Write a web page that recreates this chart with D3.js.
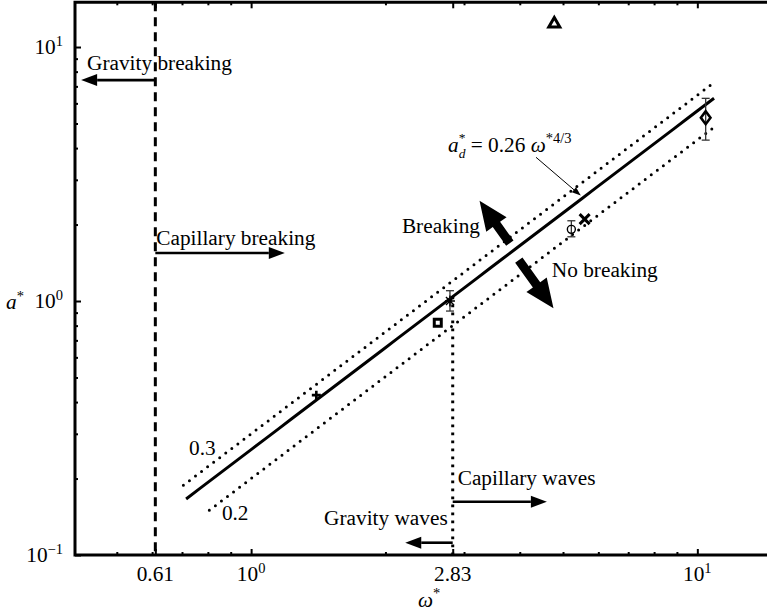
<!DOCTYPE html>
<html>
<head>
<meta charset="utf-8">
<script src="https://cdn.jsdelivr.net/npm/d3@7"></script>
<style>
  html, body { margin: 0; padding: 0; background: #fff; }
  svg { display: block; font-family: "Liberation Serif", "Times New Roman", serif; }
</style>
</head>
<body>
<svg id="chart" width="767" height="615"></svg>
<script>
// Measured breaking points (dimensionless frequency, dimensionless amplitude)
const omega   = [1.40, 2.79, 2.62, 5.22, 5.59, 10.44, 4.78];
const amp     = [0.426, 1.00, 0.821, 1.915, 2.10, 5.27, 12.5];
const symbols = ["plus", "asterisk", "square", "circle", "cross", "diamond", "triangle"];
const ampLow  = [null, 0.913, null, 1.79, null, 4.30, null];
const ampHigh = [null, 1.098, null, 2.07, null, 6.28, null];

// Threshold fits a = c * omega^(4/3)
const fitCoef  = [0.26, 0.3, 0.2];
const fitFrom  = [0.715, 0.705, 0.806];
const fitTo    = [10.9, 10.95, 10.8];
const fitExp   = 4 / 3;

// Regime boundaries
const breakingLimit = 0.61;
const waveLimit = 2.83;

// Axis ticks
const xTicks = [0.61, 1, 2.83, 10];
const xTickLabels = [["0.61", ""], ["10", "0"], ["2.83", ""], ["10", "1"]];
const yTicks = [0.1, 1, 10];
const yTickLabels = [["10", "\u22121"], ["10", "0"], ["10", "1"]];
const xMinor = [0.5, 0.6, 0.7, 0.8, 0.9, 2, 3, 4, 5, 6, 7, 8, 9];
const yMinor = [0.2, 0.3, 0.4, 0.5, 0.6, 0.7, 0.8, 0.9, 2, 3, 4, 5, 6, 7, 8, 9];

const F = 21.3;   // main font size
const FS = 14.5;  // script font size

const svg = d3.select("#chart");
const plotLeft = 75, plotBottom = 555;
const x = d3.scaleLog().domain([0.403, 14.4]).range([plotLeft, 768]);
const y = d3.scaleLog().domain([0.1, 15]).range([plotBottom, 2.3]);
const plotTop = y.range()[1], plotRight = x.range()[1];

// ---- rich text helper (italics, sub/superscripts) ----
function rich(px, py, runs, anchor) {
  const g = svg.append("g");
  let cx = 0, stackW = 0;
  runs.forEach(r => {
    const t = g.append("text")
      .attr("x", cx).attr("y", r.shift || 0)
      .style("font-size", (r.size || F) + "px")
      .style("font-style", r.italic ? "italic" : "normal")
      .attr("fill", "#000")
      .text(r.t);
    const w = t.node().getComputedTextLength();
    if (r.stack) { stackW = w; }
    else { cx += Math.max(w, stackW) + (r.gap || 0); stackW = 0; }
  });
  let ox = px;
  if (anchor === "end") ox = px - cx;
  if (anchor === "middle") ox = px - cx / 2;
  g.attr("transform", `translate(${ox},${py})`);
  return g;
}

// ---- fit lines ----
const line = d3.line().x(d => x(d[0])).y(d => y(d[1]));
fitCoef.forEach((c, i) => {
  const pts = d3.range(0, 41).map(k => {
    const w = fitFrom[i] * Math.pow(fitTo[i] / fitFrom[i], k / 40);
    return [w, c * Math.pow(w, fitExp)];
  });
  const p = svg.append("path").attr("d", line(pts)).attr("fill", "none").attr("stroke", "#000");
  if (i === 0) p.attr("stroke-width", 3);
  else p.attr("stroke-width", 3).attr("stroke-dasharray", "0 7.6").attr("stroke-linecap", "round");
});

// ---- regime boundaries ----
svg.append("line")
  .attr("x1", x(breakingLimit)).attr("x2", x(breakingLimit))
  .attr("y1", plotTop).attr("y2", plotBottom)
  .attr("stroke", "#000").attr("stroke-width", 3).attr("stroke-dasharray", "9 6");

svg.append("line")
  .attr("x1", x(waveLimit)).attr("x2", x(waveLimit))
  .attr("y1", y(fitCoef[0] * Math.pow(waveLimit, fitExp))).attr("y2", plotBottom)
  .attr("stroke", "#000").attr("stroke-width", 3).attr("stroke-dasharray", "2.6 5.4");

// ---- arrows ----
function hArrow(x0, x1, yy) {
  const dir = Math.sign(x1 - x0), hl = 16, hw = 6;
  svg.append("line").attr("x1", x0).attr("x2", x1 - dir * hl).attr("y1", yy).attr("y2", yy)
    .attr("stroke", "#000").attr("stroke-width", 2.6);
  svg.append("path").attr("d", `M${x1},${yy}L${x1 - dir * hl},${yy - hw}L${x1 - dir * hl},${yy + hw}Z`)
    .attr("fill", "#000");
}
function bigArrow(x0, y0, x1, y1, sw, hl, hw) {
  const dx = x1 - x0, dy = y1 - y0, L = Math.hypot(dx, dy);
  const ux = dx / L, uy = dy / L, nx = -uy, ny = ux;
  const bx = x1 - ux * hl, by = y1 - uy * hl;
  const P = [
    [x0 + nx * sw / 2, y0 + ny * sw / 2], [bx + nx * sw / 2, by + ny * sw / 2],
    [bx + nx * hw / 2, by + ny * hw / 2], [x1, y1],
    [bx - nx * hw / 2, by - ny * hw / 2], [bx - nx * sw / 2, by - ny * sw / 2],
    [x0 - nx * sw / 2, y0 - ny * sw / 2]];
  svg.append("path").attr("d", "M" + P.map(p => p.join(",")).join("L") + "Z").attr("fill", "#000");
}

// Gravity / capillary breaking
hArrow(x(breakingLimit), x(0.416), y(7.41));
hArrow(x(breakingLimit), x(1.19), y(1.546));
// Capillary / gravity waves
hArrow(x(waveLimit), x(4.60), y(0.162));
hArrow(x(waveLimit), x(2.215), y(0.1118));

// Breaking / no-breaking direction
bigArrow(x(3.80), y(1.69), x(3.25), y(2.48), 9, 29, 25);
bigArrow(x(3.98), y(1.45), x(4.76), y(0.936), 9, 29, 25);

// pointer from formula to fit line
(function () {
  const x0 = x(4.35), y0 = y(3.68), x1 = x(5.48), y1 = y(2.60);
  const L = Math.hypot(x1 - x0, y1 - y0), ux = (x1 - x0) / L, uy = (y1 - y0) / L;
  const hl = 9, hw = 3.2;
  svg.append("line").attr("x1", x0).attr("y1", y0).attr("x2", x1 - ux * hl * 0.6).attr("y2", y1 - uy * hl * 0.6)
    .attr("stroke", "#000").attr("stroke-width", 1);
  svg.append("path")
    .attr("d", `M${x1},${y1}L${x1 - ux * hl - uy * hw},${y1 - uy * hl + ux * hw}L${x1 - ux * hl + uy * hw},${y1 - uy * hl - ux * hw}Z`)
    .attr("fill", "#000");
})();

// ---- error bars ----
omega.forEach((w, i) => {
  if (ampLow[i] == null) return;
  const cx = x(w), c = 4;
  const g = svg.append("g").attr("stroke", "#333").attr("stroke-width", 1.3);
  g.append("line").attr("x1", cx).attr("x2", cx).attr("y1", y(ampLow[i])).attr("y2", y(ampHigh[i]));
  g.append("line").attr("x1", cx - c).attr("x2", cx + c).attr("y1", y(ampLow[i])).attr("y2", y(ampLow[i]));
  g.append("line").attr("x1", cx - c).attr("x2", cx + c).attr("y1", y(ampHigh[i])).attr("y2", y(ampHigh[i]));
});

// ---- markers ----
const markerPath = {
  plus:     { d: "M-4.5,0H4.5M0,-4.5V4.5", w: 2.6 },
  asterisk: { d: "M-5,0H5M0,-5.5V5.5M-4,-4L4,4M-4,4L4,-4", w: 1.4 },
  square:   { d: "M-3.5,-3.5H3.5V3.5H-3.5Z", w: 3 },
  circle:   { d: "M4,0A4,4 0 1 1 -4,0A4,4 0 1 1 4,0Z", w: 1.4 },
  cross:    { d: "M-5,-5L5,5M-5,5L5,-5", w: 3 },
  diamond:  { d: "M0,-6.5L4.8,0L0,6.5L-4.8,0Z", w: 2.6 },
  triangle: { d: "M0,-5L5.5,4.5H-5.5Z", w: 3 }
};
omega.forEach((w, i) => {
  const m = markerPath[symbols[i]];
  svg.append("path").attr("d", m.d)
    .attr("transform", `translate(${x(w)},${y(amp[i])})`)
    .attr("fill", "none").attr("stroke", "#000").attr("stroke-width", m.w)
    .attr("stroke-linejoin", "miter");
});

// ---- axes ----
function tickAxis(gen, scale, values, size, tr) {
  svg.append("g").attr("transform", tr)
    .call(gen(scale).tickValues(values).tickSize(-size).tickFormat(""))
    .call(g => g.select(".domain").remove())
    .call(g => g.selectAll("line").attr("stroke", "#000").attr("stroke-width", 2));
}
tickAxis(d3.axisBottom, x, xTicks, 6, `translate(0,${plotBottom})`);
tickAxis(d3.axisBottom, x, xMinor, 3, `translate(0,${plotBottom})`);
tickAxis(d3.axisTop, x, xTicks, 6, `translate(0,${plotTop})`);
tickAxis(d3.axisTop, x, xMinor, 3, `translate(0,${plotTop})`);
tickAxis(d3.axisLeft, y, yTicks, 6, `translate(${plotLeft},0)`);
tickAxis(d3.axisLeft, y, yMinor, 3, `translate(${plotLeft},0)`);

svg.append("path")
  .attr("d", `M${plotRight},${plotTop}H${plotLeft}V${plotBottom}H${plotRight}`)
  .attr("fill", "none").attr("stroke", "#000").attr("stroke-width", 3);

// tick labels
xTicks.forEach((v, i) => {
  const [b, s] = xTickLabels[i];
  const runs = [{ t: b }];
  if (s) runs.push({ t: s, size: FS, shift: -8 });
  rich(x(v), 581, runs, "middle");
});
yTicks.forEach((v, i) => {
  const [b, s] = yTickLabels[i];
  rich(63, y(v) + 7, [{ t: b }, { t: s, size: FS, shift: -8 }], "end");
});

// axis titles
rich(6, 309, [{ t: "a", italic: true }, { t: "*", size: FS, shift: -8 }]);
rich(418, 607, [{ t: "\u03C9", italic: true }, { t: "*", size: FS, shift: -9 }]);

// ---- annotations ----
rich(x(0.4288), y(8.12), [{ t: "Gravity breaking" }]);
rich(x(0.613), y(1.66), [{ t: "Capillary breaking" }]);
rich(x(waveLimit) + 5, y(0.1886), [{ t: "Capillary waves" }]);
rich(x(waveLimit) - 5, y(0.1312), [{ t: "Gravity waves" }], "end");
rich(x(2.177), y(1.857), [{ t: "Breaking" }]);
rich(x(4.72), y(1.246), [{ t: "No breaking" }]);
rich(x(0.726), y(0.2476), [{ t: "0.3" }]);
rich(x(0.86), y(0.1375), [{ t: "0.2" }]);
rich(448, 152, [
  { t: "a", italic: true },
  { t: "*", size: 13.5, shift: -10.5, stack: true },
  { t: "d", italic: true, size: 13.5, shift: 6 },
  { t: "\u00A0= 0.26\u00A0" },
  { t: "\u03C9", italic: true },
  { t: "*4/3", size: FS, shift: -9 }
]);
</script>
</body>
</html>
